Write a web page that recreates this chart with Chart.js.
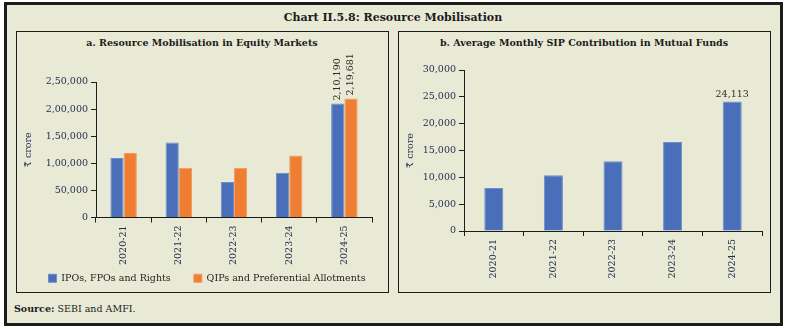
<!DOCTYPE html>
<html>
<head>
<meta charset="utf-8">
<script src="https://cdn.jsdelivr.net/npm/chart.js@4.4.1/dist/chart.umd.min.js"></script>
<style>
  body { margin: 0; background: #fff; font-family: "DejaVu Serif", serif; }
  .frame { position: absolute; left: 4px; top: 2px; width: 779px; height: 324px; box-sizing: border-box;
           border: 3px solid #1c1c1c; background: #e9ead6; }
  .panel { position: absolute; top: 31px; width: 373px; height: 262px; box-sizing: border-box;
           border: 1.5px solid #1c1c1c; }
  .ttl { position: absolute; white-space: nowrap; transform: translateX(-50%); font-weight: bold; color: #1c1c1c; }
  canvas { position: absolute; }
</style>
</head>
<body>
<div class="frame"></div>
<div class="ttl" style="left:393px; top:11px; font-size:11px;">Chart II.5.8: Resource Mobilisation</div>
<div class="panel" style="left:16px;"></div>
<div class="panel" style="left:398px;"></div>
<div class="ttl" style="left:202px; top:37px; font-size:9.5px;">a. Resource Mobilisation in Equity Markets</div>
<div class="ttl" style="left:584px; top:37px; font-size:9.5px;">b. Average Monthly SIP Contribution in Mutual Funds</div>
<div style="position:absolute; left:14px; top:303px; font-size:9.5px; color:#1c1c1c;"><b>Source:</b> SEBI and AMFI.</div>
<div style="position:absolute; left:18px; top:33px; width:369px; height:260px;"><canvas id="equity"></canvas></div>
<div style="position:absolute; left:400px; top:33px; width:369px; height:258px;"><canvas id="sip"></canvas></div>
<script>
// data
const years = ['2020-21', '2021-22', '2022-23', '2023-24', '2024-25'];
const ipoFpoRights = [109800, 138300, 65400, 82700, 210190];
const qipPreferential = [119000, 92000, 92000, 114200, 219681];
const sipMonthly = [8007, 10381, 12998, 16602, 24113];

const blue = '#4a6fba';
const orange = '#ef7d32';
const tickColor = '#22304d';
const axisColor = '#1c1c1c';
const serif = '"DejaVu Serif", serif';

// Indian digit grouping: 2,10,190
function inr(v) {
    const s = Math.round(v).toString();
    if (s.length <= 3) return s;
    const rest = s.slice(0, -3).replace(/\B(?=(\d{2})+(?!\d))/g, ',');
    return rest + ',' + s.slice(-3);
}

// value labels on the last bar(s)
const lastLabels = {
    id: 'lastLabels',
    afterDatasetsDraw(chart, args, opts) {
        const ctx = chart.ctx;
        ctx.save();
        ctx.font = opts.font;
        ctx.fillStyle = '#2b2b2b';
        chart.data.datasets.forEach((ds, di) => {
            const i = ds.data.length - 1;
            const bar = chart.getDatasetMeta(di).data[i];
            const txt = inr(ds.data[i]);
            if (opts.rotate) {
                ctx.save();
                ctx.translate(bar.x, bar.y - 3);
                ctx.rotate(-Math.PI / 2);
                ctx.textAlign = 'left';
                ctx.textBaseline = 'middle';
                ctx.fillText(txt, 0, 0);
                ctx.restore();
            } else {
                ctx.textAlign = 'center';
                ctx.textBaseline = 'bottom';
                ctx.fillText(txt, bar.x, bar.y - 2);
            }
        });
        ctx.restore();
    }
};

function yAxis(max, step, width, titlePad) {
    return {
        min: 0, max: max,
        afterFit(s) { s.width = width; },
        border: { color: axisColor, width: 1 },
        grid: { drawOnChartArea: false, tickLength: 5, tickColor: axisColor },
        ticks: { stepSize: step, color: tickColor, padding: 3, font: { family: serif, size: 9.5 },
                 callback: v => inr(v) },
        title: { display: true, text: '₹ crore', color: tickColor, padding: { top: titlePad, bottom: 0 },
                 font: { family: serif, size: 9.5 } }
    };
}

function xAxis(height) {
    return {
        afterFit(s) { s.height = height; },
        border: { color: axisColor, width: 1 },
        grid: { drawOnChartArea: false, offset: true, tickLength: 5, tickColor: axisColor },
        ticks: { color: tickColor, minRotation: 90, maxRotation: 90, padding: 3, font: { family: serif, size: 9.5 } }
    };
}

new Chart(document.getElementById('equity'), {
    type: 'bar',
    data: {
        labels: years,
        datasets: [
            { label: 'IPOs, FPOs and Rights', data: ipoFpoRights, backgroundColor: blue,
              borderColor: '#6d8ccb', borderWidth: 1, categoryPercentage: 0.48, barPercentage: 1 },
            { label: 'QIPs and Preferential Allotments', data: qipPreferential, backgroundColor: orange,
              borderColor: '#f39a5c', borderWidth: 1, categoryPercentage: 0.48, barPercentage: 1 }
        ]
    },
    options: {
        responsive: true,
        maintainAspectRatio: false,
        animation: false,
        layout: { padding: { top: 49, right: 15, left: 24, bottom: 0 } },
        scales: { x: xAxis(51), y: yAxis(250000, 50000, 54, -18.7) },
        plugins: {
            tooltip: { enabled: false },
            legend: {
                position: 'bottom',
                labels: {
                    boxWidth: 8, boxHeight: 8, padding: 5, color: '#222',
                    font: { family: serif, size: 9.5 },
                    generateLabels(chart) {
                        const items = Chart.defaults.plugins.legend.labels.generateLabels(chart);
                        // wider gap after the first entry
                        items[0].text += '\u00a0\u00a0\u00a0\u00a0\u00a0\u00a0';
                        return items;
                    }
                }
            },
            lastLabels: { rotate: true, font: '9.5px "DejaVu Serif", serif' }
        }
    },
    plugins: [lastLabels]
});

new Chart(document.getElementById('sip'), {
    type: 'bar',
    data: {
        labels: years,
        datasets: [
            { label: 'Average Monthly SIP', data: sipMonthly, backgroundColor: blue,
              borderColor: '#6d8ccb', borderWidth: 1, categoryPercentage: 0.32, barPercentage: 1 }
        ]
    },
    options: {
        responsive: true,
        maintainAspectRatio: false,
        animation: false,
        layout: { padding: { top: 37, right: 7, left: 0, bottom: 0 } },
        scales: { x: xAxis(60), y: yAxis(30000, 5000, 64, 5) },
        plugins: {
            tooltip: { enabled: false },
            legend: { display: false },
            lastLabels: { rotate: false, font: '9.5px "DejaVu Serif", serif' }
        }
    },
    plugins: [lastLabels]
});
</script>
</body>
</html>
